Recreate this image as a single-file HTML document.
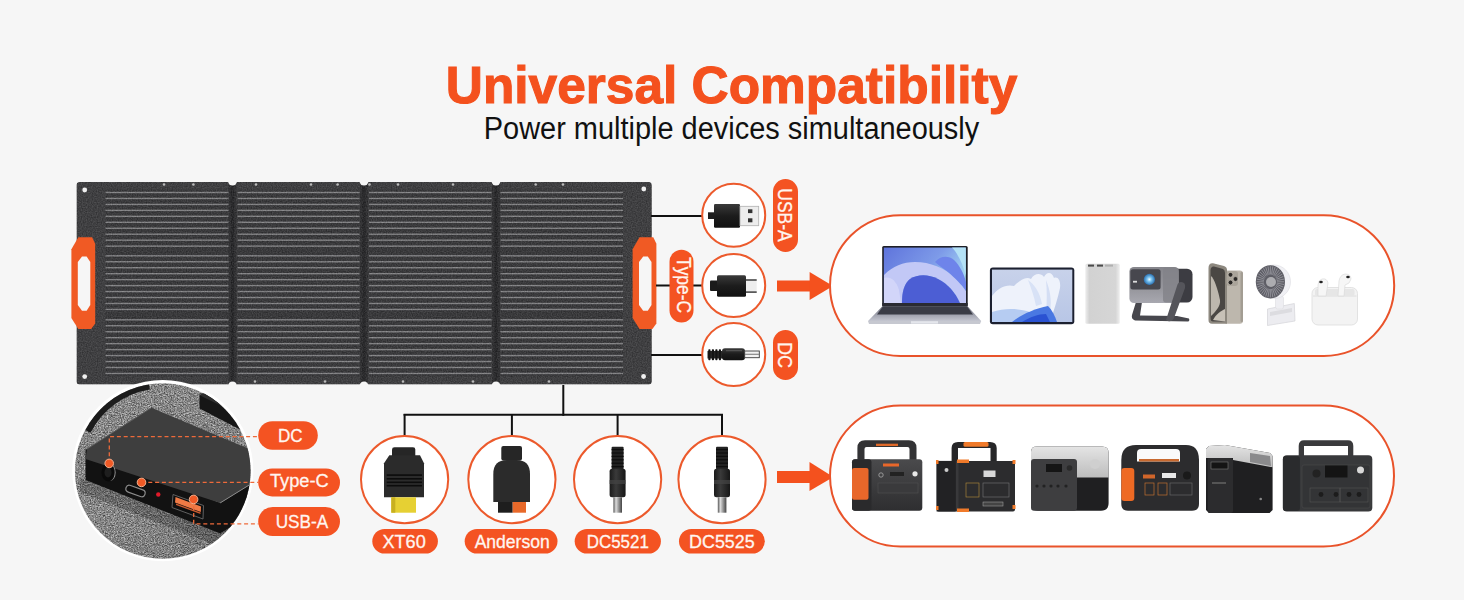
<!DOCTYPE html>
<html><head><meta charset="utf-8">
<style>
html,body{margin:0;padding:0;background:#f6f6f6;}
body{width:1464px;height:600px;overflow:hidden;position:relative;font-family:"Liberation Sans",sans-serif;}
svg{position:absolute;left:0;top:0;}
</style></head><body>
<svg width="1464" height="600" viewBox="0 0 1464 600" font-family="Liberation Sans, sans-serif">
<rect x="0" y="0" width="1464" height="600" fill="#f6f6f6"/>

<text x="731.5" y="103.4" text-anchor="middle" font-size="52.5" font-weight="bold" fill="#f4511e" stroke="#f4511e" stroke-width="1.1" textLength="571.5" lengthAdjust="spacingAndGlyphs">Universal Compatibility</text>
<text x="731.5" y="139.2" text-anchor="middle" font-size="31" fill="#111" textLength="495.5" lengthAdjust="spacingAndGlyphs">Power multiple devices simultaneously</text>
<defs><filter id="pn" x="0" y="0" width="1" height="1" filterUnits="objectBoundingBox" color-interpolation-filters="sRGB">
<feTurbulence type="fractalNoise" baseFrequency="0.8" numOctaves="1" seed="3" result="n"/>
<feColorMatrix in="n" type="matrix" values="1 0 0 0 0  1 0 0 0 0  1 0 0 0 0  0 0 0 0 1" result="g"/>
<feComposite in="g" in2="SourceGraphic" operator="arithmetic" k1="0" k2="0.22" k3="1" k4="-0.11" result="c"/>
<feComposite in="c" in2="SourceAlpha" operator="in"/>
</filter></defs>
<g id="panel" filter="url(#pn)">
<rect x="76.5" y="182" width="575.3" height="202.6" rx="3" fill="#404042"/>
<rect x="228.5" y="182" width="8" height="203" fill="#333335"/>
<rect x="231.0" y="182" width="3" height="203" fill="#2a2a2c"/>
<rect x="360" y="182" width="8" height="203" fill="#333335"/>
<rect x="362.5" y="182" width="3" height="203" fill="#2a2a2c"/>
<rect x="492" y="182" width="8" height="203" fill="#333335"/>
<rect x="494.5" y="182" width="3" height="203" fill="#2a2a2c"/>
<rect x="105.5" y="189.5" width="123.0" height="187" fill="#3a3a3c"/>
<rect x="105.5" y="191.80" width="123.0" height="1.4" fill="#828284"/>
<rect x="105.5" y="197.76" width="123.0" height="1.4" fill="#828284"/>
<rect x="105.5" y="203.72" width="123.0" height="1.4" fill="#828284"/>
<rect x="105.5" y="209.68" width="123.0" height="1.4" fill="#828284"/>
<rect x="105.5" y="215.64" width="123.0" height="1.4" fill="#828284"/>
<rect x="105.5" y="221.60" width="123.0" height="1.4" fill="#828284"/>
<rect x="105.5" y="227.56" width="123.0" height="1.4" fill="#828284"/>
<rect x="105.5" y="233.52" width="123.0" height="1.4" fill="#828284"/>
<rect x="105.5" y="239.48" width="123.0" height="1.4" fill="#828284"/>
<rect x="105.5" y="245.44" width="123.0" height="1.4" fill="#828284"/>
<rect x="105.5" y="255.10" width="123.0" height="1.4" fill="#828284"/>
<rect x="105.5" y="261.06" width="123.0" height="1.4" fill="#828284"/>
<rect x="105.5" y="267.02" width="123.0" height="1.4" fill="#828284"/>
<rect x="105.5" y="272.98" width="123.0" height="1.4" fill="#828284"/>
<rect x="105.5" y="278.94" width="123.0" height="1.4" fill="#828284"/>
<rect x="105.5" y="284.90" width="123.0" height="1.4" fill="#828284"/>
<rect x="105.5" y="290.86" width="123.0" height="1.4" fill="#828284"/>
<rect x="105.5" y="296.82" width="123.0" height="1.4" fill="#828284"/>
<rect x="105.5" y="302.78" width="123.0" height="1.4" fill="#828284"/>
<rect x="105.5" y="308.74" width="123.0" height="1.4" fill="#828284"/>
<rect x="105.5" y="319.10" width="123.0" height="1.4" fill="#828284"/>
<rect x="105.5" y="325.06" width="123.0" height="1.4" fill="#828284"/>
<rect x="105.5" y="331.02" width="123.0" height="1.4" fill="#828284"/>
<rect x="105.5" y="336.98" width="123.0" height="1.4" fill="#828284"/>
<rect x="105.5" y="342.94" width="123.0" height="1.4" fill="#828284"/>
<rect x="105.5" y="348.90" width="123.0" height="1.4" fill="#828284"/>
<rect x="105.5" y="354.86" width="123.0" height="1.4" fill="#828284"/>
<rect x="105.5" y="360.82" width="123.0" height="1.4" fill="#828284"/>
<rect x="105.5" y="366.78" width="123.0" height="1.4" fill="#828284"/>
<rect x="105.5" y="372.74" width="123.0" height="1.4" fill="#828284"/>
<rect x="237.5" y="189.5" width="122.0" height="187" fill="#3a3a3c"/>
<rect x="237.5" y="191.80" width="122.0" height="1.4" fill="#828284"/>
<rect x="237.5" y="197.76" width="122.0" height="1.4" fill="#828284"/>
<rect x="237.5" y="203.72" width="122.0" height="1.4" fill="#828284"/>
<rect x="237.5" y="209.68" width="122.0" height="1.4" fill="#828284"/>
<rect x="237.5" y="215.64" width="122.0" height="1.4" fill="#828284"/>
<rect x="237.5" y="221.60" width="122.0" height="1.4" fill="#828284"/>
<rect x="237.5" y="227.56" width="122.0" height="1.4" fill="#828284"/>
<rect x="237.5" y="233.52" width="122.0" height="1.4" fill="#828284"/>
<rect x="237.5" y="239.48" width="122.0" height="1.4" fill="#828284"/>
<rect x="237.5" y="245.44" width="122.0" height="1.4" fill="#828284"/>
<rect x="237.5" y="255.10" width="122.0" height="1.4" fill="#828284"/>
<rect x="237.5" y="261.06" width="122.0" height="1.4" fill="#828284"/>
<rect x="237.5" y="267.02" width="122.0" height="1.4" fill="#828284"/>
<rect x="237.5" y="272.98" width="122.0" height="1.4" fill="#828284"/>
<rect x="237.5" y="278.94" width="122.0" height="1.4" fill="#828284"/>
<rect x="237.5" y="284.90" width="122.0" height="1.4" fill="#828284"/>
<rect x="237.5" y="290.86" width="122.0" height="1.4" fill="#828284"/>
<rect x="237.5" y="296.82" width="122.0" height="1.4" fill="#828284"/>
<rect x="237.5" y="302.78" width="122.0" height="1.4" fill="#828284"/>
<rect x="237.5" y="308.74" width="122.0" height="1.4" fill="#828284"/>
<rect x="237.5" y="319.10" width="122.0" height="1.4" fill="#828284"/>
<rect x="237.5" y="325.06" width="122.0" height="1.4" fill="#828284"/>
<rect x="237.5" y="331.02" width="122.0" height="1.4" fill="#828284"/>
<rect x="237.5" y="336.98" width="122.0" height="1.4" fill="#828284"/>
<rect x="237.5" y="342.94" width="122.0" height="1.4" fill="#828284"/>
<rect x="237.5" y="348.90" width="122.0" height="1.4" fill="#828284"/>
<rect x="237.5" y="354.86" width="122.0" height="1.4" fill="#828284"/>
<rect x="237.5" y="360.82" width="122.0" height="1.4" fill="#828284"/>
<rect x="237.5" y="366.78" width="122.0" height="1.4" fill="#828284"/>
<rect x="237.5" y="372.74" width="122.0" height="1.4" fill="#828284"/>
<rect x="369" y="189.5" width="122.5" height="187" fill="#3a3a3c"/>
<rect x="369" y="191.80" width="122.5" height="1.4" fill="#828284"/>
<rect x="369" y="197.76" width="122.5" height="1.4" fill="#828284"/>
<rect x="369" y="203.72" width="122.5" height="1.4" fill="#828284"/>
<rect x="369" y="209.68" width="122.5" height="1.4" fill="#828284"/>
<rect x="369" y="215.64" width="122.5" height="1.4" fill="#828284"/>
<rect x="369" y="221.60" width="122.5" height="1.4" fill="#828284"/>
<rect x="369" y="227.56" width="122.5" height="1.4" fill="#828284"/>
<rect x="369" y="233.52" width="122.5" height="1.4" fill="#828284"/>
<rect x="369" y="239.48" width="122.5" height="1.4" fill="#828284"/>
<rect x="369" y="245.44" width="122.5" height="1.4" fill="#828284"/>
<rect x="369" y="255.10" width="122.5" height="1.4" fill="#828284"/>
<rect x="369" y="261.06" width="122.5" height="1.4" fill="#828284"/>
<rect x="369" y="267.02" width="122.5" height="1.4" fill="#828284"/>
<rect x="369" y="272.98" width="122.5" height="1.4" fill="#828284"/>
<rect x="369" y="278.94" width="122.5" height="1.4" fill="#828284"/>
<rect x="369" y="284.90" width="122.5" height="1.4" fill="#828284"/>
<rect x="369" y="290.86" width="122.5" height="1.4" fill="#828284"/>
<rect x="369" y="296.82" width="122.5" height="1.4" fill="#828284"/>
<rect x="369" y="302.78" width="122.5" height="1.4" fill="#828284"/>
<rect x="369" y="308.74" width="122.5" height="1.4" fill="#828284"/>
<rect x="369" y="319.10" width="122.5" height="1.4" fill="#828284"/>
<rect x="369" y="325.06" width="122.5" height="1.4" fill="#828284"/>
<rect x="369" y="331.02" width="122.5" height="1.4" fill="#828284"/>
<rect x="369" y="336.98" width="122.5" height="1.4" fill="#828284"/>
<rect x="369" y="342.94" width="122.5" height="1.4" fill="#828284"/>
<rect x="369" y="348.90" width="122.5" height="1.4" fill="#828284"/>
<rect x="369" y="354.86" width="122.5" height="1.4" fill="#828284"/>
<rect x="369" y="360.82" width="122.5" height="1.4" fill="#828284"/>
<rect x="369" y="366.78" width="122.5" height="1.4" fill="#828284"/>
<rect x="369" y="372.74" width="122.5" height="1.4" fill="#828284"/>
<rect x="500.5" y="189.5" width="122.5" height="187" fill="#3a3a3c"/>
<rect x="500.5" y="191.80" width="122.5" height="1.4" fill="#828284"/>
<rect x="500.5" y="197.76" width="122.5" height="1.4" fill="#828284"/>
<rect x="500.5" y="203.72" width="122.5" height="1.4" fill="#828284"/>
<rect x="500.5" y="209.68" width="122.5" height="1.4" fill="#828284"/>
<rect x="500.5" y="215.64" width="122.5" height="1.4" fill="#828284"/>
<rect x="500.5" y="221.60" width="122.5" height="1.4" fill="#828284"/>
<rect x="500.5" y="227.56" width="122.5" height="1.4" fill="#828284"/>
<rect x="500.5" y="233.52" width="122.5" height="1.4" fill="#828284"/>
<rect x="500.5" y="239.48" width="122.5" height="1.4" fill="#828284"/>
<rect x="500.5" y="245.44" width="122.5" height="1.4" fill="#828284"/>
<rect x="500.5" y="255.10" width="122.5" height="1.4" fill="#828284"/>
<rect x="500.5" y="261.06" width="122.5" height="1.4" fill="#828284"/>
<rect x="500.5" y="267.02" width="122.5" height="1.4" fill="#828284"/>
<rect x="500.5" y="272.98" width="122.5" height="1.4" fill="#828284"/>
<rect x="500.5" y="278.94" width="122.5" height="1.4" fill="#828284"/>
<rect x="500.5" y="284.90" width="122.5" height="1.4" fill="#828284"/>
<rect x="500.5" y="290.86" width="122.5" height="1.4" fill="#828284"/>
<rect x="500.5" y="296.82" width="122.5" height="1.4" fill="#828284"/>
<rect x="500.5" y="302.78" width="122.5" height="1.4" fill="#828284"/>
<rect x="500.5" y="308.74" width="122.5" height="1.4" fill="#828284"/>
<rect x="500.5" y="319.10" width="122.5" height="1.4" fill="#828284"/>
<rect x="500.5" y="325.06" width="122.5" height="1.4" fill="#828284"/>
<rect x="500.5" y="331.02" width="122.5" height="1.4" fill="#828284"/>
<rect x="500.5" y="336.98" width="122.5" height="1.4" fill="#828284"/>
<rect x="500.5" y="342.94" width="122.5" height="1.4" fill="#828284"/>
<rect x="500.5" y="348.90" width="122.5" height="1.4" fill="#828284"/>
<rect x="500.5" y="354.86" width="122.5" height="1.4" fill="#828284"/>
<rect x="500.5" y="360.82" width="122.5" height="1.4" fill="#828284"/>
<rect x="500.5" y="366.78" width="122.5" height="1.4" fill="#828284"/>
<rect x="500.5" y="372.74" width="122.5" height="1.4" fill="#828284"/>
</g>
<circle cx="232.5" cy="181" r="4.5" fill="#f6f6f6"/>
<circle cx="232.5" cy="386" r="4.5" fill="#f6f6f6"/>
<circle cx="364" cy="181" r="4.5" fill="#f6f6f6"/>
<circle cx="364" cy="386" r="4.5" fill="#f6f6f6"/>
<circle cx="496" cy="181" r="4.5" fill="#f6f6f6"/>
<circle cx="496" cy="386" r="4.5" fill="#f6f6f6"/>
<circle cx="84.7" cy="190" r="2.4" fill="#f0f0f0"/>
<circle cx="84.7" cy="376.6" r="2.4" fill="#f0f0f0"/>
<circle cx="643.8" cy="189" r="2.4" fill="#f0f0f0"/>
<circle cx="643.6" cy="376.5" r="2.4" fill="#f0f0f0"/>
<circle cx="164" cy="184.5" r="1.3" fill="#bbb"/>
<circle cx="193.4" cy="184.5" r="1.3" fill="#bbb"/>
<circle cx="256" cy="184.5" r="1.3" fill="#bbb"/>
<circle cx="311" cy="184.5" r="1.3" fill="#bbb"/>
<circle cx="337.6" cy="184.5" r="1.3" fill="#bbb"/>
<circle cx="369.5" cy="184.5" r="1.3" fill="#bbb"/>
<circle cx="398" cy="184.5" r="1.3" fill="#bbb"/>
<circle cx="453" cy="184.5" r="1.3" fill="#bbb"/>
<circle cx="535.7" cy="184.5" r="1.3" fill="#bbb"/>
<circle cx="563" cy="184.5" r="1.3" fill="#bbb"/>
<circle cx="255" cy="381.5" r="1.3" fill="#bbb"/>
<circle cx="325" cy="381.5" r="1.3" fill="#bbb"/>
<circle cx="403" cy="381.5" r="1.3" fill="#bbb"/>
<circle cx="473" cy="381.5" r="1.3" fill="#bbb"/>
<circle cx="549" cy="381.5" r="1.3" fill="#bbb"/>
<polygon points="78.3,237.3 92.1,237.3 95.2,243.8 95.2,323.6 91.2,329.0 78.3,329.0 71.4,318.0 71.4,249.3" fill="#f05a24"/><polygon points="77.8,262.0 82.0,256.6 86.6,256.6 90.3,262.0 90.3,305.0 86.6,310.7 82.0,310.7 77.8,305.0" fill="#f6f6f6"/>
<polygon points="639.5,237.3 653.3,237.3 656.4,243.8 656.4,323.6 652.4,329.0 639.5,329.0 632.6,318.0 632.6,249.3" fill="#f05a24"/><polygon points="639.0,262.0 643.2,256.6 647.8,256.6 651.5,262.0 651.5,305.0 647.8,310.7 643.2,310.7 639.0,305.0" fill="#f6f6f6"/>
<g stroke="#111" stroke-width="2">
<line x1="651" y1="215.9" x2="702" y2="215.9"/>
<line x1="656" y1="285.4" x2="702" y2="285.4"/>
<line x1="651" y1="354.9" x2="702" y2="354.9"/>
<line x1="563.3" y1="385" x2="563.3" y2="415.8"/>
<line x1="403.6" y1="414.8" x2="723" y2="414.8"/>
<line x1="404.6" y1="414" x2="404.6" y2="436"/>
<line x1="511.9" y1="414" x2="511.9" y2="436"/>
<line x1="617.6" y1="414" x2="617.6" y2="436"/>
<line x1="722" y1="414" x2="722" y2="436"/>
</g>
<g fill="#fff" stroke="#ec5a2c" stroke-width="2">
<circle cx="733.7" cy="215.2" r="31.5"/>
<circle cx="733.7" cy="285.4" r="31.5"/>
<circle cx="733.7" cy="354.4" r="31.5"/>
<circle cx="404.6" cy="479.6" r="43.6"/>
<circle cx="511.9" cy="479.6" r="43.6"/>
<circle cx="617.6" cy="479.6" r="43.6"/>
<circle cx="722" cy="479.6" r="43.6"/>
</g>
<defs>
<linearGradient id="blk" x1="0" y1="0" x2="0" y2="1"><stop offset="0" stop-color="#3a3a3a"/><stop offset="0.5" stop-color="#1c1c1c"/><stop offset="1" stop-color="#111"/></linearGradient>
<linearGradient id="blkh" x1="0" y1="0" x2="1" y2="0"><stop offset="0" stop-color="#1a1a1a"/><stop offset="0.4" stop-color="#3a3a3a"/><stop offset="1" stop-color="#161616"/></linearGradient>
<linearGradient id="met" x1="0" y1="0" x2="0" y2="1"><stop offset="0" stop-color="#bdbdbd"/><stop offset="0.5" stop-color="#f4f4f4"/><stop offset="1" stop-color="#c4c4c4"/></linearGradient>
<linearGradient id="meth" x1="0" y1="0" x2="1" y2="0"><stop offset="0" stop-color="#555"/><stop offset="0.3" stop-color="#ddd"/><stop offset="0.6" stop-color="#999"/><stop offset="1" stop-color="#444"/></linearGradient>
</defs>
<rect x="708" y="212.3" width="7" height="6.7" fill="#1e1e1e"/>
<rect x="714" y="204" width="26" height="23.7" rx="1.2" fill="url(#blk)"/>
<rect x="740" y="206.3" width="18.7" height="19.4" fill="#ededed" stroke="#b0b0b0" stroke-width="0.8"/>
<rect x="748" y="209.3" width="4.4" height="3.8" fill="#333"/>
<rect x="748" y="218.3" width="4.4" height="4" fill="#333"/>
<rect x="710" y="280.5" width="8" height="10.5" rx="1" fill="#1a1a1a"/>
<rect x="717" y="275.2" width="29" height="21.5" rx="1.5" fill="url(#blk)"/>
<rect x="746" y="279.5" width="10.7" height="13" fill="#eeeeee"/>
<rect x="746" y="279.3" width="10.7" height="1.4" fill="#333"/>
<rect x="746" y="291.4" width="10.7" height="1.4" fill="#333"/>
<rect x="707.5" y="351" width="15" height="7.5" fill="#262626"/>
<rect x="708.3" y="349.2" width="2.2" height="11" rx="0.8" fill="#141414"/>
<rect x="711.8" y="349.2" width="2.2" height="11" rx="0.8" fill="#141414"/>
<rect x="715.3" y="349.2" width="2.2" height="11" rx="0.8" fill="#141414"/>
<rect x="718.8" y="349.2" width="2.2" height="11" rx="0.8" fill="#141414"/>
<rect x="722" y="348.3" width="23" height="12" rx="3" fill="url(#blk)"/>
<rect x="726" y="350.2" width="16" height="1" fill="#5a5a5a"/>
<rect x="744.7" y="351" width="14.6" height="6.7" fill="#f2f2f2" stroke="#3a3a3a" stroke-width="0.9"/>
<rect x="745" y="353.7" width="14" height="1.2" fill="#888"/>
<path d="M392,456 L392,449.5 Q392,447.3 394.5,447.3 L413,447.3 Q415.3,447.3 415.3,449.5 L415.3,456 Z" fill="#262626"/>
<path d="M389.3,455.3 L420,455.3 L424,463.3 L424,497.3 L384,497.3 L384,463.3 Z" fill="#2b2b2b"/>
<rect x="386.7" y="474.3" width="35.3" height="1.6" fill="#0c0c0c"/>
<rect x="386.7" y="478.0" width="35.3" height="1.6" fill="#0c0c0c"/>
<rect x="386.7" y="481.5" width="35.3" height="1.6" fill="#0c0c0c"/>
<rect x="386.7" y="484.90000000000003" width="35.3" height="1.6" fill="#0c0c0c"/>
<rect x="391.3" y="497.3" width="24.7" height="15.4" fill="#e6d033"/>
<rect x="391.3" y="497.3" width="4" height="15.4" fill="#c8b020"/>
<rect x="501.3" y="446" width="20.7" height="14.5" rx="2" fill="#262626"/>
<path d="M493.3,502 L493.3,474 Q493.3,460 507,460 L516.5,460 Q530,460 530,474 L530,502 Z" fill="#2b2b2b"/>
<rect x="498" y="502" width="14.7" height="10.7" fill="#1e1e1e"/>
<rect x="512.7" y="502" width="13.3" height="10.7" fill="#e8692a"/>
<rect x="611.6" y="446.7" width="12" height="22.5" rx="1" fill="#222"/>
<rect x="611.6" y="449.0" width="12" height="1.2" fill="#0e0e0e"/>
<rect x="611.6" y="452.4" width="12" height="1.2" fill="#0e0e0e"/>
<rect x="611.6" y="455.8" width="12" height="1.2" fill="#0e0e0e"/>
<rect x="611.6" y="459.2" width="12" height="1.2" fill="#0e0e0e"/>
<rect x="611.6" y="462.6" width="12" height="1.2" fill="#0e0e0e"/>
<rect x="611.6" y="466.0" width="12" height="1.2" fill="#0e0e0e"/>
<rect x="609.6" y="468.7" width="16" height="28.6" rx="2.5" fill="url(#blkh)"/>
<rect x="609.6" y="480" width="16" height="4" fill="#444" opacity="0.7"/>
<rect x="613.4" y="497.3" width="8.6" height="15.4" fill="url(#meth)"/>
<rect x="716.0" y="446.7" width="12" height="22.5" rx="1" fill="#222"/>
<rect x="716.0" y="449.0" width="12" height="1.2" fill="#0e0e0e"/>
<rect x="716.0" y="452.4" width="12" height="1.2" fill="#0e0e0e"/>
<rect x="716.0" y="455.8" width="12" height="1.2" fill="#0e0e0e"/>
<rect x="716.0" y="459.2" width="12" height="1.2" fill="#0e0e0e"/>
<rect x="716.0" y="462.6" width="12" height="1.2" fill="#0e0e0e"/>
<rect x="716.0" y="466.0" width="12" height="1.2" fill="#0e0e0e"/>
<rect x="714.0" y="468.7" width="16" height="28.6" rx="2.5" fill="url(#blkh)"/>
<rect x="714.0" y="480" width="16" height="4" fill="#444" opacity="0.7"/>
<rect x="717.8" y="497.3" width="8.6" height="15.4" fill="url(#meth)"/>
<g fill="#f45322">
<rect x="773" y="179" width="25" height="73" rx="12.5"/>
<rect x="669.5" y="249.7" width="24" height="72.8" rx="12"/>
<rect x="773" y="330" width="25" height="50" rx="12.5"/>
<rect x="372.3" y="529" width="65.6" height="24.6" rx="12.3"/>
<rect x="464.7" y="529" width="92.8" height="24.6" rx="12.3"/>
<rect x="574.7" y="529" width="86.2" height="24.6" rx="12.3"/>
<rect x="679" y="529" width="85.8" height="24.6" rx="12.3"/>
<rect x="258.2" y="421.2" width="59.6" height="28.5" rx="14.25"/>
<rect x="258.2" y="468.4" width="81.8" height="28" rx="14"/>
<rect x="258.2" y="507" width="81.8" height="29" rx="14.5"/>
</g>
<text x="290.3" y="442" text-anchor="middle" font-size="18.8" fill="#fff6f0" stroke="#fff6f0" stroke-width="0.3" textLength="24.6" lengthAdjust="spacingAndGlyphs">DC</text>
<text x="299.3" y="487" text-anchor="middle" font-size="18.8" fill="#fff6f0" stroke="#fff6f0" stroke-width="0.3" textLength="58.8" lengthAdjust="spacingAndGlyphs">Type-C</text>
<text x="302.0" y="527.9" text-anchor="middle" font-size="18.8" fill="#fff6f0" stroke="#fff6f0" stroke-width="0.3" textLength="52.6" lengthAdjust="spacingAndGlyphs">USB-A</text>
<text x="404.1" y="548" text-anchor="middle" font-size="18" fill="#fff6f0" stroke="#fff6f0" stroke-width="0.3" textLength="43.4" lengthAdjust="spacingAndGlyphs">XT60</text>
<text x="512.2" y="548" text-anchor="middle" font-size="18" fill="#fff6f0" stroke="#fff6f0" stroke-width="0.3" textLength="75.1" lengthAdjust="spacingAndGlyphs">Anderson</text>
<text x="617.8" y="548" text-anchor="middle" font-size="18" fill="#fff6f0" stroke="#fff6f0" stroke-width="0.3" textLength="62.1" lengthAdjust="spacingAndGlyphs">DC5521</text>
<text x="721.9" y="548" text-anchor="middle" font-size="18" fill="#fff6f0" stroke="#fff6f0" stroke-width="0.3" textLength="65.7" lengthAdjust="spacingAndGlyphs">DC5525</text>
<text transform="translate(778.3,215.0) rotate(90)" x="0" y="0" text-anchor="middle" font-size="19.3" fill="#fff6f0" stroke="#fff6f0" stroke-width="0.3" textLength="53.4" lengthAdjust="spacingAndGlyphs">USB-A</text>
<text transform="translate(677,285.0) rotate(90)" x="0" y="0" text-anchor="middle" font-size="19.3" fill="#fff6f0" stroke="#fff6f0" stroke-width="0.3" textLength="56.0" lengthAdjust="spacingAndGlyphs">Type-C</text>
<text transform="translate(778.3,355.0) rotate(90)" x="0" y="0" text-anchor="middle" font-size="19.3" fill="#fff6f0" stroke="#fff6f0" stroke-width="0.3" textLength="26.0" lengthAdjust="spacingAndGlyphs">DC</text>
<g fill="#f4511e">
<rect x="777" y="280.5" width="33" height="11"/>
<polygon points="809.6,272 833,286 809.6,300"/>
<rect x="777" y="471" width="33" height="12"/>
<polygon points="809.5,462 833.4,477 809.5,491"/>
</g>
<g fill="#fff" stroke="#e9532a" stroke-width="2">
<rect x="830" y="215.2" width="564.2" height="140.8" rx="70.4"/>
<rect x="830" y="405.5" width="564" height="141" rx="70.5"/>
</g>
<defs>
<linearGradient id="lscr" x1="0" y1="0" x2="1" y2="0.6"><stop offset="0" stop-color="#5f74dc"/><stop offset="0.55" stop-color="#7d9ae8"/><stop offset="1" stop-color="#a8e0f4"/></linearGradient>
<linearGradient id="ldeck" x1="0" y1="0" x2="0" y2="1"><stop offset="0" stop-color="#6a6c78"/><stop offset="0.5" stop-color="#9a9ca8"/><stop offset="1" stop-color="#c4c6d0"/></linearGradient>
<linearGradient id="tscr" x1="0" y1="0" x2="0" y2="1"><stop offset="0" stop-color="#c8d2ea"/><stop offset="1" stop-color="#b8c6e6"/></linearGradient>
<linearGradient id="pb" x1="0" y1="0" x2="1" y2="0"><stop offset="0" stop-color="#eeeeee"/><stop offset="0.12" stop-color="#d2d2d2"/><stop offset="0.88" stop-color="#d6d6d6"/><stop offset="1" stop-color="#efefef"/></linearGradient>
<linearGradient id="prj" x1="0" y1="0" x2="0" y2="1"><stop offset="0" stop-color="#85858b"/><stop offset="0.6" stop-color="#96969c"/><stop offset="1" stop-color="#a8a8b0"/></linearGradient>
<linearGradient id="ph1" x1="0" y1="0" x2="1" y2="0"><stop offset="0" stop-color="#c8c2b8"/><stop offset="0.25" stop-color="#6e6a64"/><stop offset="0.7" stop-color="#4a4744"/><stop offset="1" stop-color="#8c877f"/></linearGradient>
<linearGradient id="ph2" x1="0" y1="0" x2="1" y2="0"><stop offset="0" stop-color="#c8c2b6"/><stop offset="0.5" stop-color="#b4aea4"/><stop offset="1" stop-color="#9a948a"/></linearGradient>
<radialGradient id="lens" cx="0.5" cy="0.5" r="0.5"><stop offset="0" stop-color="#f0fbff"/><stop offset="0.4" stop-color="#7cc4f0"/><stop offset="1" stop-color="#2a6fb0"/></radialGradient>
<radialGradient id="fang" cx="0.5" cy="0.5" r="0.5"><stop offset="0" stop-color="#9a9aa0"/><stop offset="0.35" stop-color="#8a8a90"/><stop offset="0.4" stop-color="#55555c"/><stop offset="0.85" stop-color="#6a6a72"/><stop offset="1" stop-color="#e8e8ec"/></radialGradient>
</defs>
<rect x="882.2" y="246" width="85.5" height="60.5" rx="1.5" fill="#1e1f26"/>
<rect x="883.8" y="247.6" width="82" height="55.4" fill="url(#lscr)"/>
<path d="M884,303 L884,275 C893,266 903,262 915,262 C930,262 945,268 955,278 C960,283 963,287 966,291 L966,303 L960,303 C955,292 948,284 938,279 C928,274 918,274 910,279 C904,284 902,292 902,303 Z" fill="#c2c8f6"/>
<path d="M884,303 L884,278 C890,276 896,280 899,290 L901,303 Z" fill="#d6d8fa" opacity="0.8"/>
<path d="M902,303 C902,292 904,284 910,279 C918,274 928,274 938,279 C948,284 955,292 960,303 Z" fill="#4c5ed4"/>
<path d="M935,262 C940,256 948,255 954,260 C960,266 964,274 966,282 L966,291 C962,285 955,278 948,272 C943,268 938,265 935,262 Z" fill="#6e84ea"/>
<path d="M952,247.6 L965.8,247.6 L965.8,276 C963,264 958,254 952,247.6 Z" fill="#b4e2f6"/>
<rect x="882.2" y="303" width="85.5" height="3.5" fill="#2a2b32"/>
<polygon points="882.2,306.5 967.7,306.5 981.2,321 868,321" fill="url(#ldeck)"/>
<polygon points="883,306.5 967,306.5 973,314.5 877,314.5" fill="#3a3c46"/>
<polygon points="868,321 981.2,321 980,324 869,324" fill="#c6c8d0"/>
<rect x="911" y="321.2" width="27" height="2.4" fill="#e4e6ec"/>
<rect x="989.9" y="267.6" width="84.4" height="56.6" rx="3" fill="#1c2030"/>
<rect x="992" y="269.6" width="80.3" height="52.4" fill="url(#tscr)"/>
<path d="M992,296 C998,288 1006,284 1014,286 C1020,280 1026,276 1031,279 C1034,274 1040,272 1044,277 C1047,271 1052,272 1054,278 C1058,276 1061,281 1060,288 C1058,298 1054,310 1050,322 L992,322 Z" fill="#eef2fb"/>
<path d="M1028,280 C1034,284 1040,292 1042,304 L1036,306 C1034,296 1031,288 1028,280 Z" fill="#d8e2f6"/>
<path d="M1046,280 C1050,290 1052,300 1050,312 L1046,312 C1047,302 1047,290 1046,280 Z" fill="#d4def4"/>
<path d="M992,312 C1004,308 1018,308 1030,312 C1026,316 1020,320 1016,322 L992,322 Z" fill="#b6ccf2"/>
<path d="M1012,322 C1022,314 1034,309 1048,306 C1052,310 1055,316 1057,322 Z" fill="#4a78e2"/>
<path d="M1022,322 C1030,317 1038,314 1046,314 L1050,322 Z" fill="#2a52d2"/>
<rect x="1085.3" y="263.8" width="34.5" height="60" rx="1.5" fill="url(#pb)"/>
<rect x="1088" y="264.6" width="6" height="2" fill="#4a4a4a"/>
<rect x="1097" y="264.6" width="6" height="2" fill="#4a4a4a"/>
<rect x="1105" y="264.6" width="8" height="2" fill="#b0b0b0"/>
<path d="M1136,302 L1132,315 Q1131,319 1135,320.5 L1188,321.5 Q1190,321 1189,318.5 L1177,316 L1140,315.5 L1142,302 Z" fill="#47474d"/>
<rect x="1168" y="268.75" width="24.5" height="33.75" rx="5.5" fill="#3c3c42"/>
<rect x="1129.4" y="266.9" width="49.35" height="36.2" rx="4.5" fill="url(#prj)"/>
<rect x="1163" y="267.5" width="15.75" height="35" rx="3" fill="#828288" opacity="0.8"/>
<rect x="1130.4" y="269.2" width="30.2" height="20.4" rx="2.5" fill="#47474e"/>
<circle cx="1149.4" cy="279.4" r="5.6" fill="url(#lens)"/>
<rect x="1133" y="280.8" width="4" height="1.8" fill="#ddd"/>
<path d="M1181,282 Q1186,282 1185,288 L1174,318 Q1172,322 1168,321 L1166,320 L1177,286 Q1178,282 1181,282 Z" fill="#55555b"/>
<rect x="1224" y="270.5" width="19" height="53.3" rx="3.2" fill="#bdb7ad"/>
<rect x="1240.5" y="272" width="2.5" height="50" rx="1.2" fill="#a39d93"/>
<path d="M1208.5,268 Q1208.5,262.8 1213,263.2 L1224,266 Q1227,267 1227,270 L1227,323.8 L1212,323.8 Q1208.5,323.8 1208.5,320 Z" fill="#8d887f"/>
<path d="M1210.5,270 Q1211,266 1214,266.5 L1223,269 Q1225,270 1225,273 L1225,321.5 L1213,321.5 Q1210.5,321.5 1210.5,318 Z" fill="#4a4744"/>
<path d="M1211,276 C1214,278 1218,290 1220,300 C1221,306 1215,312 1211,316 Z" fill="#bdb7ae"/>
<path d="M1213,320 C1216,314 1221,311 1225,309 L1225,321.5 Z" fill="#c7c1b7"/>
<rect x="1226.5" y="271" width="11.5" height="15" rx="3" fill="#aaa49a"/>
<circle cx="1230.5" cy="274.8" r="2.4" fill="#2a2826" stroke="#d0cac0" stroke-width="0.6"/>
<circle cx="1235.5" cy="279" r="2.4" fill="#2a2826" stroke="#d0cac0" stroke-width="0.6"/>
<circle cx="1230.5" cy="282.5" r="2.4" fill="#2a2826" stroke="#d0cac0" stroke-width="0.6"/>
<polygon points="1267.5,309 1294.3,303.5 1295,321 1267.5,325.5" fill="#ececf0" stroke="#d4d4d8" stroke-width="0.7"/>
<polygon points="1270,312 1292,308 1292,312 1270,316" fill="#dcdce0"/>
<rect x="1275.5" y="296" width="8" height="13" rx="2" fill="#eeeef2" stroke="#d8d8dc" stroke-width="0.5"/>
<ellipse cx="1274" cy="281.8" rx="16.5" ry="16.8" fill="#f0f0f4" stroke="#dcdce0" stroke-width="0.6"/>
<ellipse cx="1270.4" cy="281.8" rx="14.6" ry="16.6" fill="#5e5e66"/>
<line x1="1276.9" y1="281.8" x2="1284.2" y2="281.8" stroke="#a4a4aa" stroke-width="0.7"/>
<line x1="1276.8" y1="283.1" x2="1284.0" y2="284.5" stroke="#a4a4aa" stroke-width="0.7"/>
<line x1="1276.5" y1="284.3" x2="1283.4" y2="287.1" stroke="#a4a4aa" stroke-width="0.7"/>
<line x1="1276.0" y1="285.4" x2="1282.4" y2="289.6" stroke="#a4a4aa" stroke-width="0.7"/>
<line x1="1275.4" y1="286.5" x2="1281.0" y2="291.8" stroke="#a4a4aa" stroke-width="0.7"/>
<line x1="1274.6" y1="287.4" x2="1279.3" y2="293.8" stroke="#a4a4aa" stroke-width="0.7"/>
<line x1="1273.7" y1="288.1" x2="1277.3" y2="295.3" stroke="#a4a4aa" stroke-width="0.7"/>
<line x1="1272.6" y1="288.7" x2="1275.1" y2="296.5" stroke="#a4a4aa" stroke-width="0.7"/>
<line x1="1271.5" y1="289.0" x2="1272.8" y2="297.2" stroke="#a4a4aa" stroke-width="0.7"/>
<line x1="1270.4" y1="289.1" x2="1270.4" y2="297.4" stroke="#a4a4aa" stroke-width="0.7"/>
<line x1="1269.3" y1="289.0" x2="1268.0" y2="297.2" stroke="#a4a4aa" stroke-width="0.7"/>
<line x1="1268.2" y1="288.7" x2="1265.7" y2="296.5" stroke="#a4a4aa" stroke-width="0.7"/>
<line x1="1267.2" y1="288.1" x2="1263.5" y2="295.3" stroke="#a4a4aa" stroke-width="0.7"/>
<line x1="1266.2" y1="287.4" x2="1261.5" y2="293.8" stroke="#a4a4aa" stroke-width="0.7"/>
<line x1="1265.4" y1="286.5" x2="1259.8" y2="291.8" stroke="#a4a4aa" stroke-width="0.7"/>
<line x1="1264.8" y1="285.4" x2="1258.4" y2="289.6" stroke="#a4a4aa" stroke-width="0.7"/>
<line x1="1264.3" y1="284.3" x2="1257.4" y2="287.1" stroke="#a4a4aa" stroke-width="0.7"/>
<line x1="1264.0" y1="283.1" x2="1256.8" y2="284.5" stroke="#a4a4aa" stroke-width="0.7"/>
<line x1="1263.9" y1="281.8" x2="1256.6" y2="281.8" stroke="#a4a4aa" stroke-width="0.7"/>
<line x1="1264.0" y1="280.5" x2="1256.8" y2="279.1" stroke="#a4a4aa" stroke-width="0.7"/>
<line x1="1264.3" y1="279.3" x2="1257.4" y2="276.5" stroke="#a4a4aa" stroke-width="0.7"/>
<line x1="1264.8" y1="278.2" x2="1258.4" y2="274.0" stroke="#a4a4aa" stroke-width="0.7"/>
<line x1="1265.4" y1="277.1" x2="1259.8" y2="271.8" stroke="#a4a4aa" stroke-width="0.7"/>
<line x1="1266.2" y1="276.2" x2="1261.5" y2="269.8" stroke="#a4a4aa" stroke-width="0.7"/>
<line x1="1267.2" y1="275.5" x2="1263.5" y2="268.3" stroke="#a4a4aa" stroke-width="0.7"/>
<line x1="1268.2" y1="274.9" x2="1265.7" y2="267.1" stroke="#a4a4aa" stroke-width="0.7"/>
<line x1="1269.3" y1="274.6" x2="1268.0" y2="266.4" stroke="#a4a4aa" stroke-width="0.7"/>
<line x1="1270.4" y1="274.5" x2="1270.4" y2="266.2" stroke="#a4a4aa" stroke-width="0.7"/>
<line x1="1271.5" y1="274.6" x2="1272.8" y2="266.4" stroke="#a4a4aa" stroke-width="0.7"/>
<line x1="1272.6" y1="274.9" x2="1275.1" y2="267.1" stroke="#a4a4aa" stroke-width="0.7"/>
<line x1="1273.7" y1="275.5" x2="1277.3" y2="268.3" stroke="#a4a4aa" stroke-width="0.7"/>
<line x1="1274.6" y1="276.2" x2="1279.3" y2="269.8" stroke="#a4a4aa" stroke-width="0.7"/>
<line x1="1275.4" y1="277.1" x2="1281.0" y2="271.8" stroke="#a4a4aa" stroke-width="0.7"/>
<line x1="1276.0" y1="278.2" x2="1282.4" y2="274.0" stroke="#a4a4aa" stroke-width="0.7"/>
<line x1="1276.5" y1="279.3" x2="1283.4" y2="276.5" stroke="#a4a4aa" stroke-width="0.7"/>
<line x1="1276.8" y1="280.5" x2="1284.0" y2="279.1" stroke="#a4a4aa" stroke-width="0.7"/>
<circle cx="1271" cy="282" r="5" fill="#acacb0"/>
<rect x="1312" y="287.5" width="45.5" height="37.5" rx="6" fill="#f3f3f3" stroke="#dcdcdc" stroke-width="0.8"/>
<path d="M1313,296 L1356.5,296" stroke="#d8d8d8" stroke-width="0.8"/>
<rect x="1315" y="289" width="39.5" height="7" rx="2" fill="#e6e6e6"/>
<path d="M1318,296 L1318,285 Q1318,280 1322,279 Q1327,278 1328,283 L1326,296 Z" fill="#f6f6f6" stroke="#d6d6d6" stroke-width="0.6"/>
<path d="M1338,296 L1339,281 Q1340,275 1345,274 Q1351,274 1351,279 Q1350,284 1345,285 L1344,296 Z" fill="#f6f6f6" stroke="#d6d6d6" stroke-width="0.6"/>
<ellipse cx="1321" cy="282" rx="1.8" ry="1.2" fill="#222"/>
<ellipse cx="1348" cy="277" rx="1.8" ry="1.2" fill="#222"/>
<defs>
<linearGradient id="ps" x1="0" y1="0" x2="0" y2="1"><stop offset="0" stop-color="#4a4a4c"/><stop offset="1" stop-color="#2e2e30"/></linearGradient>
<linearGradient id="psil" x1="0" y1="0" x2="0" y2="1"><stop offset="0" stop-color="#e4e4e4"/><stop offset="1" stop-color="#bdbdbd"/></linearGradient>
</defs>
<path d="M857.4,461 L857.4,448 Q857.4,440.3 865,440.3 L909,440.3 Q916.5,440.3 916.5,448 L916.5,461 L909.5,461 L909.5,449 Q909.5,447 907.5,447 L866.5,447 Q864.5,447 864.5,449 L864.5,461 Z" fill="#333335"/>
<rect x="876" y="443.7" width="22" height="2.3" fill="#e06a2a"/>
<rect x="852" y="459.3" width="70.3" height="51.4" rx="3" fill="url(#ps)"/>
<rect x="852" y="459.3" width="19.5" height="51.4" rx="3" fill="#2a2a2c"/>
<rect x="852" y="468" width="16.5" height="31.7" rx="2" fill="#e8672a"/>
<rect x="883" y="463.5" width="16" height="3" fill="#e8672a"/>
<circle cx="881" cy="475" r="2.2" fill="none" stroke="#aaa" stroke-width="0.8"/>
<circle cx="915" cy="473.8" r="2.6" fill="#e8e8e8"/>
<rect x="890" y="472" width="14" height="4" fill="#222"/>
<rect x="878" y="483" width="40" height="10" fill="#3a3a3c" stroke="#555" stroke-width="0.5"/>
<path d="M951.6,462 L951.6,448 Q951.6,441.9 958,441.9 L990,441.9 Q996.7,441.9 996.7,448 L996.7,462 L990.5,462 L990.5,448 L958,448 L958,462 Z" fill="#262628"/>
<rect x="963.5" y="441.9" width="25" height="4.8" rx="1.5" fill="#f07a2a"/>
<rect x="936.6" y="460.9" width="78.4" height="50.6" rx="2" fill="#2c2c2e"/>
<rect x="936.6" y="460.9" width="19" height="50.6" fill="#222224"/>
<rect x="956" y="461" width="2.5" height="50" fill="#39393b"/>
<rect x="957" y="459.5" width="12" height="3.5" fill="#f07a2a"/>
<rect x="957" y="508.5" width="12" height="3.5" fill="#f07a2a"/>
<rect x="936" y="460" width="2.5" height="4" fill="#f07a2a"/>
<rect x="1012.5" y="460" width="3" height="4" fill="#f07a2a"/>
<rect x="936" y="506" width="2.5" height="4" fill="#f07a2a"/>
<rect x="1012.5" y="505" width="3" height="4" fill="#f07a2a"/>
<rect x="983.5" y="470.5" width="12" height="6.5" fill="#d8d8d8"/>
<rect x="966" y="483" width="13" height="14" fill="none" stroke="#b8903a" stroke-width="0.6"/>
<rect x="983" y="483" width="26" height="14" fill="none" stroke="#777" stroke-width="0.6"/>
<rect x="983" y="502" width="20" height="4" fill="#444" stroke="#aaa" stroke-width="0.5"/>
<circle cx="946.5" cy="470" r="2" fill="#ccc"/>
<path d="M1031,452 Q1031,446.6 1037,446.6 L1102,446.6 Q1108.6,446.6 1108.6,453 L1108.6,503 Q1108.6,510.7 1101,510.7 L1038,510.7 Q1031,510.7 1031,504 Z" fill="#1f1f21"/>
<path d="M1031,452 Q1031,446.6 1037,446.6 L1102,446.6 Q1108.6,446.6 1108.6,453 L1108.6,477.5 L1077,477.5 L1077,462 L1031,462 Z" fill="url(#psil)"/>
<rect x="1031" y="459" width="46" height="51.7" rx="3" fill="#3e3e40"/>
<rect x="1046" y="464" width="16" height="8" fill="#151515"/>
<circle cx="1069.5" cy="468" r="2.8" fill="#2a2a2a"/>
<circle cx="1095" cy="464" r="5" fill="#cfcfcf"/>
<circle cx="1037" cy="486" r="1.6" fill="#222"/>
<circle cx="1044" cy="486" r="1.6" fill="#222"/>
<circle cx="1051" cy="486" r="1.6" fill="#222"/>
<circle cx="1058" cy="486" r="1.6" fill="#222"/>
<circle cx="1066" cy="486" r="1.6" fill="#222"/>
<path d="M1121.3,460 Q1121.3,445 1136,445 L1186,445 Q1199,445 1199,460 L1199,504 Q1199,510.7 1192,510.7 L1128,510.7 Q1121.3,510.7 1121.3,504 Z" fill="#2c2c2e"/>
<path d="M1137,461.5 L1137,453 Q1137,449 1141,449 L1176,449 Q1180,449 1180,453 L1180,461.5 Z" fill="#fafafa"/>
<rect x="1139" y="459" width="40" height="2.5" fill="#c86a30"/>
<rect x="1121.3" y="468" width="13" height="33" rx="3" fill="#ee6a24"/>
<rect x="1143" y="474.5" width="12" height="4" fill="#d0652a"/>
<rect x="1162" y="473" width="14" height="5" fill="#e8e8e8"/>
<circle cx="1187" cy="475.5" r="4" fill="#1a1a1a"/>
<rect x="1145" y="483" width="9" height="12" fill="none" stroke="#c07030" stroke-width="0.7"/>
<rect x="1158" y="483" width="9" height="12" fill="none" stroke="#c07030" stroke-width="0.7"/>
<rect x="1170" y="483" width="22" height="12" fill="none" stroke="#666" stroke-width="0.7"/>
<polygon points="1206,449 1209,446 1225,445 1270,453 1272.6,456 1272.6,510 1269.6,513 1209,513 1206,510" fill="#1f1f21"/>
<polygon points="1206,449 1209,446 1225,445 1270,453 1272.6,456 1272.6,467.3 1233,460 1233,458 1206,458" fill="url(#psil)"/>
<polygon points="1250,453 1270,456 1271,466 1250,462" fill="#8a8a8c"/>
<rect x="1207.7" y="458" width="25.3" height="55" rx="2" fill="#2c2c2e"/>
<rect x="1211" y="462" width="17" height="7" fill="#141414" stroke="#888" stroke-width="0.5"/>
<rect x="1212" y="482" width="14" height="2" fill="#555"/>
<circle cx="1260.7" cy="499" r="1.3" fill="#888"/>
<path d="M1298.7,458 L1298.7,446 Q1298.7,440.3 1304,440.3 L1348,440.3 Q1353.3,440.3 1353.3,446 L1353.3,458 L1348,458 L1348,446 L1304,446 L1304,458 Z" fill="#3a3a3c"/>
<rect x="1282.9" y="455.3" width="89.4" height="56.2" rx="4" fill="#38393b"/>
<rect x="1282.9" y="456" width="17" height="55" rx="3" fill="#2a2b2d"/>
<rect x="1302" y="465" width="68" height="43" rx="2" fill="#333436" stroke="#4a4a4c" stroke-width="0.6"/>
<rect x="1325" y="465.5" width="22.5" height="12" fill="#141414"/>
<circle cx="1316.5" cy="473.5" r="4" fill="#222"/>
<circle cx="1360.5" cy="470" r="3.5" fill="#d8d8d8"/>
<rect x="1310" y="488" width="30" height="14" fill="none" stroke="#555" stroke-width="0.6"/>
<rect x="1340" y="488" width="28" height="14" fill="none" stroke="#555" stroke-width="0.6"/>
<circle cx="1321" cy="494.5" r="2.4" fill="#1c1c1c"/>
<circle cx="1336" cy="494.5" r="2.4" fill="#1c1c1c"/>
<circle cx="1349" cy="494.5" r="2.4" fill="#1c1c1c"/>
<circle cx="1359" cy="494.5" r="2.4" fill="#1c1c1c"/>
<defs>
<linearGradient id="fabg" x1="0" y1="0" x2="1" y2="1"><stop offset="0" stop-color="#8a8a8a"/><stop offset="0.5" stop-color="#858585"/><stop offset="1" stop-color="#767676"/></linearGradient>
<clipPath id="pc"><circle cx="162.75" cy="471" r="87.8"/></clipPath>
<filter id="fab" x="0" y="0" width="1" height="1" filterUnits="objectBoundingBox" color-interpolation-filters="sRGB">
<feTurbulence type="fractalNoise" baseFrequency="0.7 1.1" numOctaves="2" seed="11" result="n"/>
<feColorMatrix in="n" type="matrix" values="1 0 0 0 0  1 0 0 0 0  1 0 0 0 0  0 0 0 0 1" result="g"/>
<feComposite in="g" in2="SourceGraphic" operator="arithmetic" k1="0" k2="0.8" k3="1" k4="-0.4"/>
</filter>
</defs>
<circle cx="162.75" cy="470.6" r="90.6" fill="#fff"/>
<g clip-path="url(#pc)">
<rect x="70" y="376" width="190" height="190" fill="url(#fabg)" filter="url(#fab)"/>
<path d="M 87.9,431.4 A 84,84 0 0 1 149.4,386.5" stroke="#1c1c1c" stroke-width="6" fill="none"/>
<polygon points="199.5,395 205.5,392.7 260,420 260,436 240,429.5 199.5,408.5" fill="#161616"/>
<polygon points="199.5,395 205.5,392.7 260,420 260,424 205,398" fill="#2e2e2e"/>
<polygon points="80,478 85.5,480 220.2,533.5 248,516 262,508 262,530 222,548 80,492" fill="#000" opacity="0.22"/>
<polygon points="85.5,449 85.5,480 220.2,533.5 248,516 260,505 260,470 250,484.5 220.2,502.9" fill="#121212"/>
<polygon points="87,449 151.5,407.7 260,453.5 260,470 250,484.5 220.2,502.9 85.5,459" fill="#3e3e3e"/>
<polyline points="220.2,502.9 250,484.5" stroke="#8a8a8a" stroke-width="1" fill="none"/>
<polyline points="87,449 151.5,407.7" stroke="#5a5a5a" stroke-width="1" fill="none"/>
<ellipse cx="108.5" cy="472.5" rx="7" ry="9" fill="#0a0a0a"/>
<path d="M110,464 A7,9 0 0 1 110,481 A5,7.5 0 0 0 110,464 Z" fill="#9a9a9a"/>
<ellipse cx="108" cy="472.5" rx="3.5" ry="5" fill="#1e1e1e"/>
<rect x="125.5" y="487.5" width="20" height="7" rx="3.5" transform="rotate(20 135.5 491)" fill="#0c0c0c" stroke="#8a8a8a" stroke-width="1.2"/>
<circle cx="158.3" cy="494.5" r="2.2" fill="#e01a2a"/>
<polygon points="173,494.5 203.5,505.5 203,519 172,507.5" fill="#0e0e0e" stroke="#6a6a6a" stroke-width="0.9"/>
<polygon points="175.5,497 201,506.5 200.8,512 175,502.5" fill="#f07a45"/>
<polygon points="176,503.5 200.5,512.5 200.5,514 176,505" fill="#c85a30"/>
</g>
<g stroke="#ee6a3a" stroke-width="1.3" stroke-dasharray="4 2.8" fill="none">
<polyline points="109.3,463 109.3,436.6 258.5,436.6"/>
<polyline points="141.5,482.4 258.5,482.4"/>
<polyline points="193.7,499.4 193.7,523.8 258.5,523.8"/>
</g>
<circle cx="109.2" cy="463.4" r="4.3" fill="#f05a26" stroke="#f0b090" stroke-width="1"/>
<circle cx="141.5" cy="482.4" r="4.3" fill="#f05a26" stroke="#f0b090" stroke-width="1"/>
<circle cx="193.6" cy="499.4" r="4.3" fill="#f05a26" stroke="#f0b090" stroke-width="1"/>
</svg></body></html>
